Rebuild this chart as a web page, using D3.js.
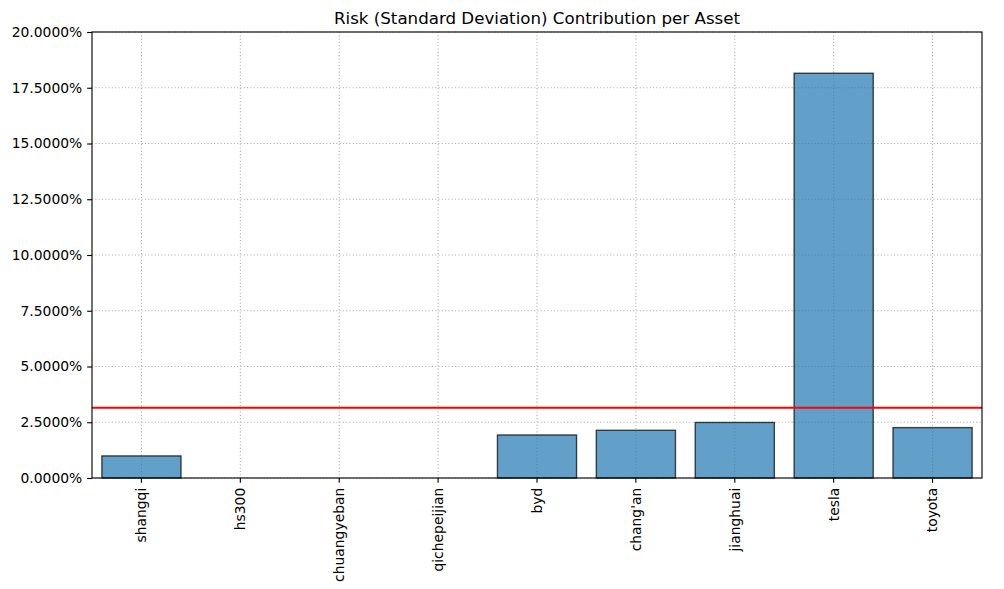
<!DOCTYPE html>
<html><head><meta charset="utf-8">
<script src="https://cdn.jsdelivr.net/npm/d3@7"></script>
<style>body{margin:0;background:#fff;}svg{font-family:"DejaVu Sans",sans-serif;}</style>
</head><body><svg id="c" width="1004" height="589"></svg>
<script>
const categories = ["shangqi","hs300","chuangyeban","qichepeijian","byd","chang'an","jianghuai","tesla","toyota"];
const values = [0.99, 0.0, 0.0, 0.0, 1.93, 2.14, 2.49, 18.15, 2.26];
const threshold = 3.15;
const yTicks = [0, 2.5, 5, 7.5, 10, 12.5, 15, 17.5, 20];
const title = "Risk (Standard Deviation) Contribution per Asset";

const pt = 100/72;
const svg = d3.select("#c");
const m = {l:92, r:1004-982, t:32, b:589-478};
const W = 1004 - m.l - m.r, H = 589 - m.t - m.b;
const g = svg.append("g").attr("transform",`translate(${m.l},${m.t})`);
const x = d3.scaleBand().domain(categories).range([0,W]).paddingInner(0.2).paddingOuter(0.1);
const y = d3.scaleLinear().domain([0,20]).range([H,0]);

// grid
g.append("g").selectAll("line").data(yTicks).join("line")
  .attr("x1",0).attr("x2",W).attr("y1",d=>y(d)).attr("y2",d=>y(d))
  .attr("stroke","#b0b0b0").attr("stroke-width",0.8*pt).attr("stroke-dasharray","1.1,2.2");
g.append("g").selectAll("line").data(categories).join("line")
  .attr("x1",d=>x(d)+x.bandwidth()/2).attr("x2",d=>x(d)+x.bandwidth()/2).attr("y1",0).attr("y2",H)
  .attr("stroke","#b0b0b0").attr("stroke-width",0.8*pt).attr("stroke-dasharray","1.1,2.2");

// bars
g.append("g").selectAll("rect").data(values).join("rect")
  .attr("x",(d,i)=>x(categories[i])).attr("width",x.bandwidth())
  .attr("y",d=>y(d)).attr("height",d=>H-y(d))
  .attr("fill","rgba(31,119,180,0.7)").attr("stroke","rgba(0,0,0,0.7)").attr("stroke-width",1*pt);

// threshold
g.append("line").attr("x1",0).attr("x2",W).attr("y1",y(threshold)).attr("y2",y(threshold))
  .attr("stroke","red").attr("stroke-width",1.5*pt);

// axes
const ts = 3.5*pt;
const ya = g.append("g").call(d3.axisLeft(y).tickValues(yTicks).tickSize(ts).tickPadding(ts).tickFormat(d=>d.toFixed(4)+"%"));
const xa = g.append("g").attr("transform",`translate(0,${H})`).call(d3.axisBottom(x).tickSize(ts).tickPadding(ts));
[ya,xa].forEach(a=>{a.select(".domain").remove();a.selectAll("line").attr("stroke","#000").attr("stroke-width",0.8*pt);a.selectAll("text").attr("font-size",10*pt).attr("fill","#000").attr("font-family","DejaVu Sans");});
xa.selectAll("text").attr("transform","rotate(-90)").attr("text-anchor","end").attr("dy","0.35em").attr("y",0).attr("x",-(ts*2));

g.append("rect").attr("x",0).attr("y",0).attr("width",W).attr("height",H).attr("fill","none").attr("stroke","#000").attr("stroke-width",0.8*pt);

svg.append("text").attr("x",m.l+W/2).attr("y",m.t-6*pt).attr("text-anchor","middle").attr("font-size",12*pt).text(title);
</script></body></html>
